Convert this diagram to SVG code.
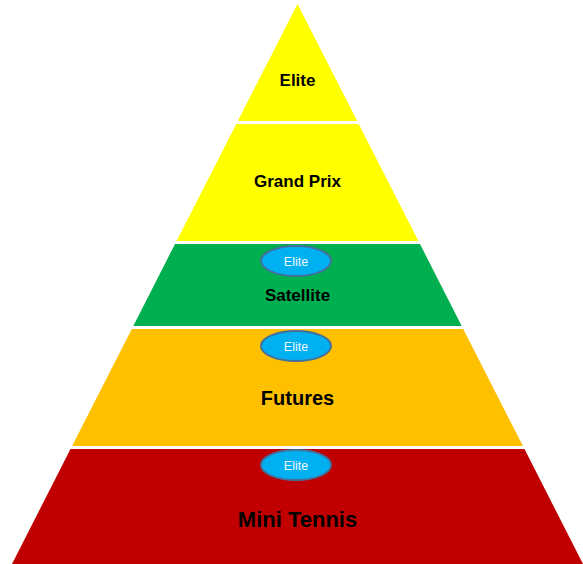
<svg xmlns="http://www.w3.org/2000/svg" width="583" height="564" viewBox="0 0 583 564">
<style>
.lbl{font-family:"Liberation Sans",Arial,sans-serif;font-weight:bold;fill:#000;text-anchor:middle}
.badge ellipse{fill:#00B0F0;stroke:#41719C;stroke-width:2}
.badge text{font-family:"Liberation Sans",Arial,sans-serif;font-size:12.5px;fill:#F2F8FF;text-anchor:middle}
</style>
<rect width="583" height="564" fill="#fff"/>
<g id="elite">
<polygon points="297.5,4 237.8,121 357.2,121" fill="#FFFF00"/>
<text class="lbl" x="297.5" y="86" font-size="17">Elite</text>
</g>
<g id="grand-prix">
<polygon points="236.3,124 358.7,124 418.4,241 176.6,241" fill="#FFFF00"/>
<text class="lbl" x="297.5" y="187" font-size="17">Grand Prix</text>
</g>
<g id="satellite">
<polygon points="175,244 420,244 461.7,326 133.3,326" fill="#00B050"/>
<text class="lbl" x="297.5" y="301" font-size="17">Satellite</text>
</g>
<g id="futures">
<polygon points="131.8,329 463.2,329 522.9,446 72.1,446" fill="#FFC000"/>
<text class="lbl" x="297.5" y="405" font-size="20">Futures</text>
</g>
<g id="mini-tennis">
<polygon points="70.5,449 524.5,449 583,564 12,564" fill="#C00000"/>
<text class="lbl" x="297.5" y="527" font-size="22">Mini Tennis</text>
</g>
<g id="badge-satellite" class="badge">
<ellipse cx="296" cy="261" rx="35" ry="15"/>
<text x="296" y="265.5">Elite</text>
</g>
<g id="badge-futures" class="badge">
<ellipse cx="296" cy="346" rx="35" ry="15"/>
<text x="296" y="350.5">Elite</text>
</g>
<g id="badge-mini" class="badge">
<ellipse cx="296" cy="465" rx="35" ry="15"/>
<text x="296" y="469.5">Elite</text>
</g>
<g id="connectors"/>
</svg>
